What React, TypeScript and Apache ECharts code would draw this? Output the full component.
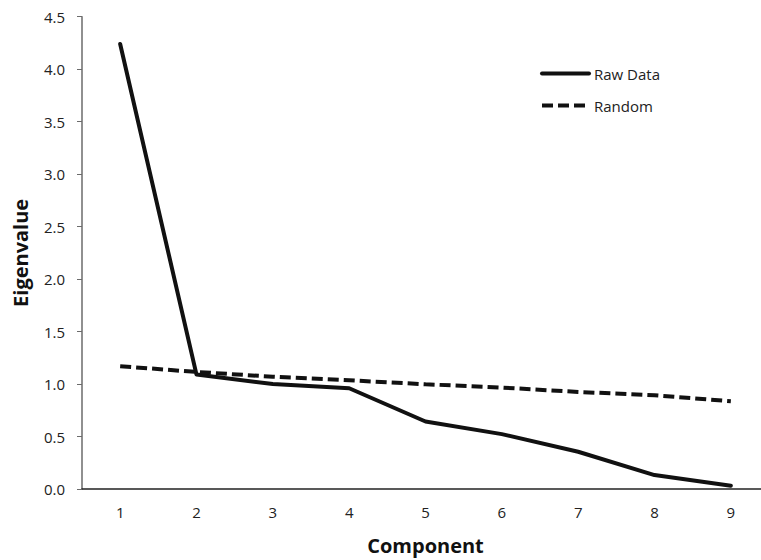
import React, { useEffect, useRef } from "react";
import * as echarts from "echarts";

const components = ["1", "2", "3", "4", "5", "6", "7", "8", "9"];
const rawData = [4.24, 1.09, 1.0, 0.96, 0.643, 0.523, 0.355, 0.133, 0.031];
const randomData = [1.17, 1.115, 1.07, 1.036, 0.998, 0.966, 0.925, 0.893, 0.836];
const seriesNames = ["Raw Data", "Random"];

const FONT = "'Open Sans', 'Noto Sans', sans-serif";

export default function App() {
  const ref = useRef<HTMLDivElement>(null);
  useEffect(() => {
    if (!ref.current) return;
    const chart = echarts.init(ref.current, null, { renderer: "svg" });
    chart.setOption({
      animation: false,
      grid: { left: 82, top: 16.7, right: 0, bottom: 70, containLabel: false },
      legend: {
        orient: "vertical",
        left: 535,
        top: 61,
        itemWidth: 47,
        itemHeight: 16,
        itemGap: 17,
        itemStyle: { opacity: 0 },
        lineStyle: { width: 4 },
        textStyle: { fontFamily: FONT, fontSize: 15, color: "#222" },
        data: seriesNames,
      },
      xAxis: {
        type: "category",
        data: components,
        boundaryGap: true,
        name: "Component",
        nameLocation: "middle",
        nameGap: 46,
        nameTextStyle: { fontFamily: FONT, fontSize: 20, fontWeight: "bold", color: "#111" },
        axisLine: { lineStyle: { color: "#222", width: 1.5 } },
        axisTick: { alignWithLabel: true, length: 5, lineStyle: { color: "#222" } },
        axisLabel: { margin: 15, fontFamily: FONT, fontSize: 15, color: "#222" },
        splitLine: { show: false },
      },
      yAxis: {
        type: "value",
        min: 0,
        max: 4.5,
        interval: 0.5,
        name: "Eigenvalue",
        nameLocation: "middle",
        nameGap: 52,
        nameTextStyle: { fontFamily: FONT, fontSize: 20, fontWeight: "bold", color: "#111" },
        axisLine: { show: true, lineStyle: { color: "#6b6b6b", width: 1.5 } },
        axisTick: { show: true, length: 5, lineStyle: { color: "#6b6b6b" } },
        axisLabel: {
          margin: 17,
          fontFamily: FONT,
          fontSize: 15,
          color: "#222",
          formatter: (v: number) => v.toFixed(1),
        },
        splitLine: { show: false },
      },
      series: [
        {
          name: seriesNames[0],
          type: "line",
          data: rawData,
          symbol: "none",
          lineStyle: { color: "#111", width: 4, cap: "round", join: "round" },
          itemStyle: { color: "#111" },
        },
        {
          name: seriesNames[1],
          type: "line",
          data: randomData,
          symbol: "none",
          lineStyle: { color: "#111", width: 4, type: [11, 5], cap: "butt" },
          itemStyle: { color: "#111" },
        },
      ],
    });
    return () => chart.dispose();
  }, []);
  return (
    <div
      style={{
        position: "absolute",
        left: 0,
        top: 0,
        width: 761,
        height: 560,
        overflow: "hidden",
      }}
    >
      <div ref={ref} style={{ width: 769, height: 560 }} />
    </div>
  );
}
